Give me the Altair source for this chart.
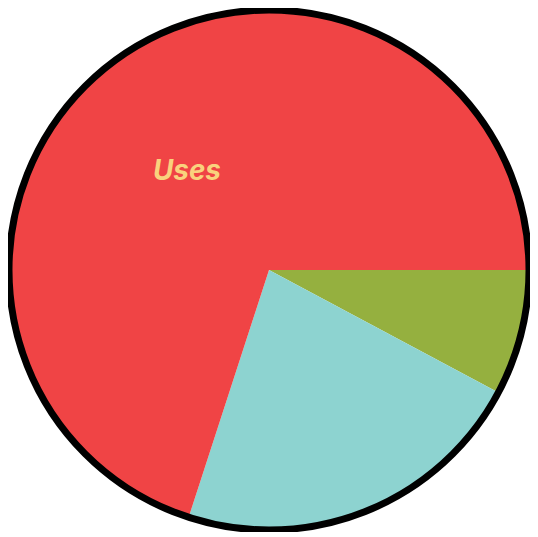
import math
import altair as alt
import pandas as pd

categories = ["Green", "Teal", "Uses"]
values = [7.8, 22.2, 70.0]
labels = ["", "", "Uses"]
colors = ["#95b03f", "#8dd3d0", "#f04445"]

df = pd.DataFrame({"category": categories, "value": values, "label": labels,
                   "order": [0, 1, 2]})
outline_df = pd.DataFrame({"value": [sum(values)]})

theta_scale = alt.Scale(range=[math.pi / 2, math.pi / 2 + 2 * math.pi])

pie = alt.Chart(df).mark_arc(radius=261).encode(
    theta=alt.Theta("value:Q", stack=True, scale=theta_scale),
    order=alt.Order("order:Q"),
    color=alt.Color("category:N", scale=alt.Scale(domain=categories, range=colors), legend=None),
)

outline = alt.Chart(outline_df).mark_arc(
    radius=261, fillOpacity=0, stroke="black", strokeWidth=7
).encode(
    theta=alt.Theta("value:Q", stack=True, scale=theta_scale),
)

text = alt.Chart(df).mark_text(
    radius=130, fontSize=28, fontWeight="bold", fontStyle="italic",
    font="Inter", color="#f9d27d", align="center", baseline="middle", dx=-6, dy=7
).encode(
    theta=alt.Theta("value:Q", stack=True, scale=theta_scale),
    order=alt.Order("order:Q"),
    text="label:N",
)

chart = alt.layer(pie, outline, text).properties(
    width=524, height=524, autosize=alt.AutoSizeParams(type="none"), padding=0
).configure_view(strokeWidth=0)

chart.save("out.html", embed_options={"renderer": "svg", "actions": False})
